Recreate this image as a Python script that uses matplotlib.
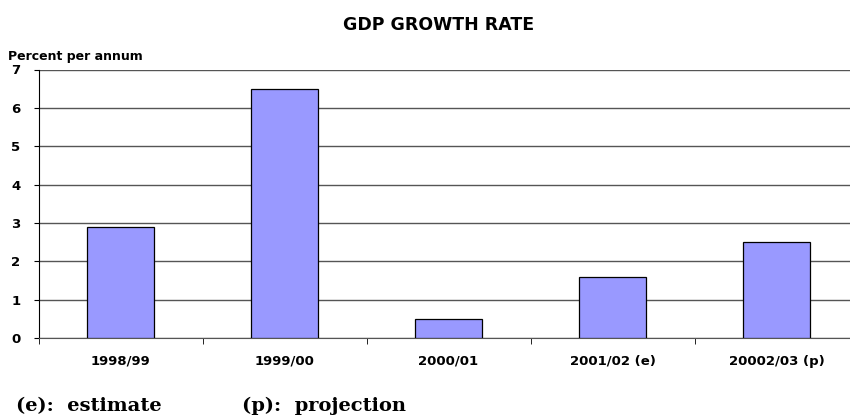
import matplotlib
matplotlib.use("Agg")
import matplotlib.pyplot as plt

# data
years = ["1998/99", "1999/00", "2000/01", "2001/02 (e)", "20002/03 (p)"]
growth = [2.9, 6.5, 0.5, 1.6, 2.5]
yticks = [0, 1, 2, 3, 4, 5, 6, 7]

W, H = 850, 418
fig = plt.figure(figsize=(W / 100, H / 100), dpi=100)
# plot area runs off the right edge like the original
ax = fig.add_axes([38.5 / W, (H - 338) / H, 820 / W, 268.5 / H])

ax.bar(range(len(years)), growth, width=0.41, color="#9999ff",
       edgecolor="#000000", linewidth=0.9, zorder=3)

ax.set_xlim(-0.5, len(years) - 0.5)
ax.set_ylim(0, 7)
ax.set_yticks(yticks)
ax.set_yticklabels([str(t) for t in yticks], fontsize=9.5, fontweight="bold",
                   family="DejaVu Sans")
ax.yaxis.grid(True, color="#555555", linewidth=1.0, zorder=0)

ax.set_xticks(range(len(years)))
ax.set_xticklabels(years, fontsize=9.5, fontweight="bold", family="DejaVu Sans")
ax.tick_params(axis="x", length=0, pad=12)
# category separator ticks
ax.set_xticks([i + 0.5 for i in range(-1, len(years))], minor=True)
ax.tick_params(axis="x", which="minor", length=4, direction="out", color="#000000")
ax.tick_params(axis="y", length=3.6, direction="out", pad=9.4)

for s in ["top", "right"]:
    ax.spines[s].set_visible(False)
ax.spines["left"].set_color("#000000")
ax.spines["bottom"].set_color("#555555")

fig.text(439 / W, 1 - 25 / H, "GDP GROWTH RATE", ha="center", va="center",
         fontsize=12.5, fontweight="bold", family="DejaVu Sans")
fig.text(8 / W, 1 - 60 / H, "Percent per annum", ha="left", va="baseline",
         fontsize=9, fontweight="bold", family="DejaVu Sans")

fig.text(16 / W, 1 - 411 / H, "(e):  estimate", ha="left", va="baseline",
         fontsize=14, fontweight="bold", family="DejaVu Serif")
fig.text(242 / W, 1 - 411 / H, "(p):  projection", ha="left", va="baseline",
         fontsize=14, fontweight="bold", family="DejaVu Serif")

fig.savefig("out.png", dpi=100)
